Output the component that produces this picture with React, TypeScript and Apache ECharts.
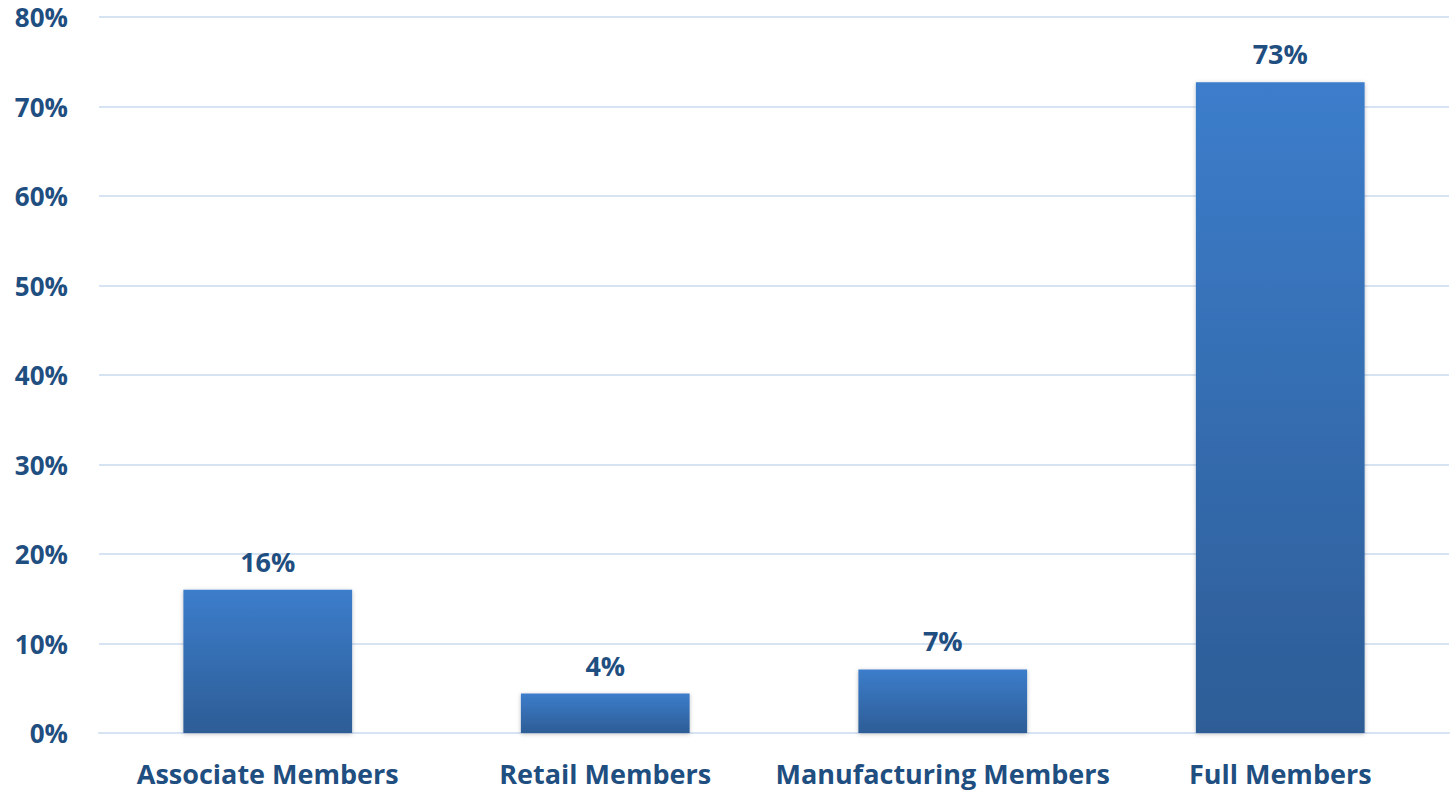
import React, { useEffect, useRef } from "react";
import * as echarts from "echarts";

const categories = ["Associate Members", "Retail Members", "Manufacturing Members", "Full Members"];
const values = [16.0, 4.4, 7.1, 72.7];
const yTicks = [0, 80, 10];

const FONT = "'Open Sans', sans-serif";
const TEXT = "#1f4e80";

export default function App() {
  const ref = useRef<HTMLDivElement>(null);
  useEffect(() => {
    if (!ref.current) return;
    const chart = echarts.init(ref.current, undefined, { renderer: "svg" });
    chart.setOption({
      animation: false,
      backgroundColor: "#ffffff",
      grid: { left: 99, right: 2, top: 17, bottom: 60, containLabel: false },
      xAxis: {
        type: "category",
        data: categories,
        axisLine: { show: true, lineStyle: { color: "#d6e3f3", width: 2 } },
        axisTick: { show: false },
        axisLabel: {
          color: TEXT,
          fontFamily: FONT,
          fontWeight: "bold",
          fontSize: 27,
          margin: 27,
          interval: 0,
        },
      },
      yAxis: {
        type: "value",
        min: yTicks[0],
        max: yTicks[1],
        interval: yTicks[2],
        axisLine: { show: false },
        axisTick: { show: false },
        splitLine: { lineStyle: { color: "#d6e3f3", width: 2 } },
        axisLabel: {
          color: TEXT,
          fontFamily: FONT,
          fontWeight: "bold",
          fontSize: 26,
          margin: 31,
          formatter: (v: number) => v + "%",
        },
      },
      series: [
        {
          type: "bar",
          data: values,
          barWidth: "50%",
          itemStyle: {
            color: new echarts.graphic.LinearGradient(0, 0, 0, 1, [
              { offset: 0, color: "#3c7dcb" },
              { offset: 1, color: "#2d5d96" },
            ]),
            shadowColor: "rgba(0,0,0,0.25)",
            shadowBlur: 4,
            shadowOffsetY: 1,
          },
          label: {
            show: true,
            position: "top",
            distance: 15,
            color: TEXT,
            fontFamily: FONT,
            fontWeight: "bold",
            fontSize: 27,
            formatter: (p: any) => Math.round(p.value) + "%",
          },
        },
      ],
    });
    return () => chart.dispose();
  }, []);
  return (
    <div
      ref={ref}
      style={{ position: "fixed", left: 0, top: 0, width: 1451, height: 793, background: "#fff" }}
    />
  );
}
